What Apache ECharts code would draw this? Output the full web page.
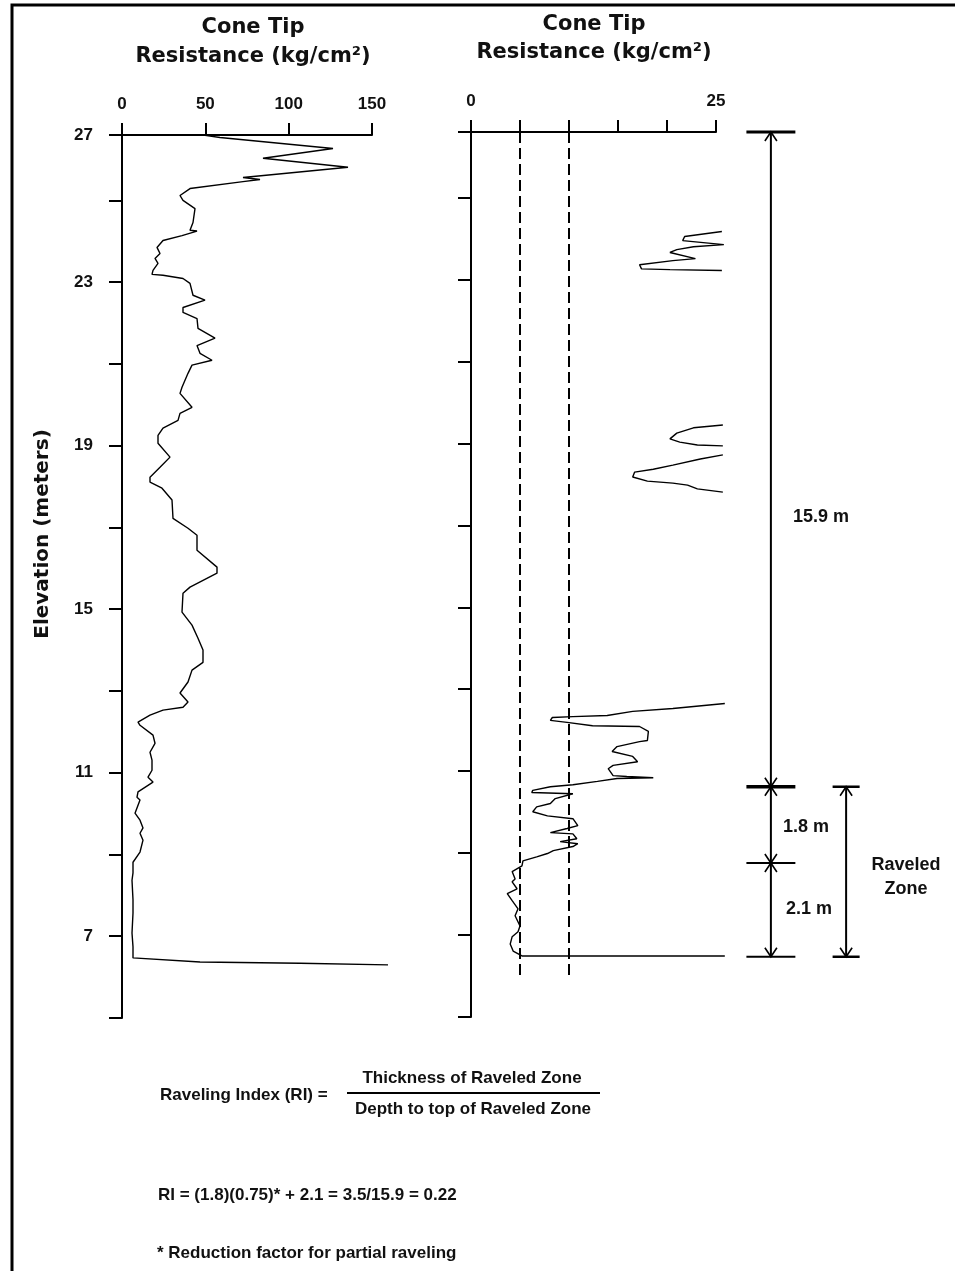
<!DOCTYPE html>
<html>
<head>
<meta charset="utf-8">
<title>Cone Tip Resistance - Raveling Index</title>
<script src="https://cdn.jsdelivr.net/npm/echarts@6/dist/echarts.min.js"></script>
<style>
  html, body { margin: 0; padding: 0; background: #fff; }
  #main { width: 955px; height: 1271px; }
</style>
</head>
<body>
<div id="main"></div>
<script>
// elevation axis (m), shared by both profiles
const elevMin = 5;
const elevMax = 26.6;
const elevLabels = [7, 11, 15, 19, 23];

// left profile: cone tip resistance (kg/cm2) against elevation (m)
const leftElev = [26.59, 26.59, 26.54, 26.27, 26.03, 25.81, 25.56, 25.51, 25.46, 25.29, 25.12, 25.0, 24.8, 24.46,
  24.27, 24.25, 24.14, 24.02, 23.85, 23.7, 23.58, 23.46, 23.29, 23.19, 23.17, 23.09, 22.97, 22.68, 22.56, 22.38,
  22.26, 22.11, 21.87, 21.63, 21.45, 21.26, 21.09, 20.97, 20.77, 20.43, 20.28, 19.94, 19.79, 19.62, 19.43, 19.25,
  19.06, 18.72, 18.47, 18.23, 18.11, 17.96, 17.67, 17.22, 16.98, 16.81, 16.44, 16.03, 15.88, 15.54, 15.39, 14.93,
  14.61, 14.29, 14.0, 13.7, 13.51, 13.22, 12.95, 12.73, 12.6, 12.53, 12.41, 12.24, 12.16, 11.92, 11.72, 11.5,
  11.31, 11.06, 10.89, 10.77, 10.53, 10.4, 10.33, 10.01, 9.84, 9.65, 9.52, 9.35, 9.06, 8.81, 8.55, 8.37, 7.89,
  7.57, 7.08, 6.74, 6.47, 6.37, 6.34, 6.3];
const leftResist = [13.8, 49.8, 58.8, 126.6, 84.6, 135.6, 72.6, 82.8, 72.6, 40.8, 34.8, 36.6, 43.8, 42.6,
  40.8, 45, 36, 24.6, 21, 22.8, 19.8, 21.6, 18.6, 18, 24.6, 36.6, 40.8, 42.6, 49.8, 36.6,
  36.6, 45, 45.6, 55.8, 45, 46.8, 54, 42, 39.6, 36, 34.8, 42, 34.8, 33.6, 24.6, 21.6,
  21.6, 28.8, 22.8, 16.8, 16.8, 24, 30, 30.6, 39.6, 45, 45, 57, 57, 40.8, 36.6, 36,
  42, 45.6, 48.6, 48.6, 42, 39.6, 34.8, 39.6, 36.6, 24.6, 16.8, 9.6, 10.8, 18.6, 19.8, 16.8,
  18, 18, 15.6, 18.6, 9.6, 9, 10.8, 7.8, 10.8, 12.6, 10.8, 12.6, 10.8, 6.6, 6.6, 6, 6.6,
  6.6, 6, 6.6, 6.6, 46.8, 106.8, 159.6];

// right profile (expanded scale 0-25), null = off scale
const rightElev = [24.17, 24.05, 23.95, 23.85, 23.8, 23.73, 23.66, 23.51, 23.46, 23.36, 23.26, 23.24, 23.22, null,
  19.45, 19.38, 19.25, 19.11, 19.03, 18.96, 18.94, null, 18.72, 18.62, 18.47, 18.37, 18.3, 18.18, 18.08, 18.03,
  17.98, 17.89, 17.81, null,
  12.65, 12.53, 12.46, 12.36, 12.33, 12.31, 12.24, 12.19, 12.11, 12.09, 11.97, 11.75, 11.72, 11.6, 11.48, 11.36,
  11.23, 11.14, 11.06, 10.89, 10.87, 10.84, 10.82, 10.75, 10.67, 10.62, 10.53, 10.48, 10.45, 10.33, 10.21, 10.13,
  10.01, 9.91, 9.84, 9.67, 9.6, 9.5, 9.47, 9.35, 9.28, 9.23, 9.16, 9.06, 8.99, 8.91, 8.81, 8.69, 8.55, 8.37, 8.3,
  8.13, 8.01, 7.84, 7.64, 7.47, 7.22, 7.08, 6.96, 6.78, 6.61, 6.49, 6.49, 6.49];
const rightResist = [25.6, 21.8, 21.6, 25.8, 22.7, 21.0, 20.3, 22.9, 20.6, 17.2, 17.4, 20.3, 25.6, null,
  25.7, 22.7, 21.0, 20.3, 21.3, 23.1, 25.7, null, 25.7, 23.4, 20.6, 18.6, 16.7, 16.5, 18.0, 20.6,
  22.1, 23.1, 25.7, null,
  25.9, 20.6, 16.5, 13.9, 10.4, 8.3, 8.1, 9.8, 12.4, 17.2, 18.1, 18.0, 17.2, 14.9, 14.4, 16.5,
  17.0, 14.5, 14.0, 14.5, 15.9, 18.6, 14.9, 12.9, 10.4, 8.1, 6.3, 6.2, 10.4, 8.6, 8.1, 6.7,
  6.3, 7.8, 10.4, 10.9, 9.8, 8.1, 10.4, 10.8, 9.1, 10.9, 10.4, 8.4, 7.8, 6.7, 5.3, 5.2, 4.2, 4.5, 4.2,
  4.7, 3.7, 4.2, 4.8, 4.5, 5.0, 4.8, 4.2, 4.0, 4.3, 5.2, 13.9, 25.9];

// dashed reference lines on the right profile
const refResist = [5, 10];
const refTop = 26.6;
const refBottom = 5.93;

// dimension lines: [column, top elevation, bottom elevation]
const dimSegments = [[2.78, 26.6, 10.62], [2.78, 10.62, 8.76], [2.78, 8.76, 6.47], [5.73, 10.62, 6.47]];
// extension bars: [column, elevation, half width, line width]
const dimBars = [[2.78, 26.6, 0.96, 3], [2.78, 10.62, 0.96, 3.5], [2.78, 8.76, 0.96, 2],
  [2.78, 6.47, 0.96, 2], [5.73, 10.62, 0.53, 2.5], [5.73, 6.47, 0.53, 2.5]];

const titleFont = 'bold 21px "DejaVu Sans", sans-serif';
const labelFamily = '"Liberation Sans", Arial, sans-serif';

// the profiles run past the printed axis (values > 150 and > 25), so they are drawn
// on hidden axes of the same scale that extend further to the right
const leftLeft = 122, leftWidth = 250, leftMax = 150, leftDataMax = 180;
const rightLeft = 471, rightWidth = 245, rightMax = 25, rightDataMax = 30;

function toPairs(xs, ys) {
  return xs.map((x, i) => (x == null || ys[i] == null ? ['-', '-'] : [x, ys[i]]));
}

function elevAxis(gridIndex, showLabel) {
  return {
    type: 'value',
    gridIndex: gridIndex,
    min: elevMin,
    max: elevMax,
    interval: 2,
    axisLine: { show: true, lineStyle: { color: '#000', width: 2 } },
    axisTick: { show: true, length: 13, lineStyle: { color: '#000', width: 2 } },
    splitLine: { show: false },
    axisLabel: {
      show: showLabel,
      margin: 29,
      showMinLabel: true,
      showMaxLabel: true,
      color: '#111',
      fontFamily: labelFamily,
      fontWeight: 'bold',
      fontSize: 17,
      formatter: (v) => {
        if (v > elevMax - 0.05) return '27';
        return elevLabels.indexOf(v) >= 0 ? String(v) : '';
      },
    },
  };
}

function resistAxis(gridIndex, max, interval, shown) {
  return {
    type: 'value',
    gridIndex: gridIndex,
    position: 'top',
    min: 0,
    max: max,
    interval: interval,
    axisLine: { show: true, lineStyle: { color: '#000', width: 2 } },
    axisTick: { show: true, length: 12, lineStyle: { color: '#000', width: 2 } },
    splitLine: { show: false },
    axisLabel: {
      margin: 22,
      color: '#111',
      fontFamily: labelFamily,
      fontWeight: 'bold',
      fontSize: 17,
      formatter: (v) => (shown.indexOf(v) >= 0 ? String(v) : ''),
    },
  };
}

function hiddenAxis(gridIndex, min, max) {
  return { type: 'value', gridIndex: gridIndex, min: min, max: max, show: false };
}

// dimension line with open arrow heads at both ends
function renderDimension(params, api) {
  const col = api.value(0);
  const p1 = api.coord([col, api.value(1)]);
  const p2 = api.coord([col, api.value(2)]);
  const a = 6;
  const h = 9;
  const stroke = { stroke: '#000', fill: null, lineWidth: 1.6 };
  return {
    type: 'group',
    children: [
      { type: 'line', shape: { x1: p1[0], y1: p1[1], x2: p2[0], y2: p2[1] }, style: { stroke: '#000', lineWidth: 2 } },
      { type: 'polyline', shape: { points: [[p1[0] - a, p1[1] + h], [p1[0], p1[1]], [p1[0] + a, p1[1] + h]] }, style: stroke },
      { type: 'polyline', shape: { points: [[p2[0] - a, p2[1] - h], [p2[0], p2[1]], [p2[0] + a, p2[1] - h]] }, style: stroke },
    ],
  };
}

function renderBar(params, api) {
  const col = api.value(0);
  const half = api.value(2);
  const p1 = api.coord([col - half, api.value(1)]);
  const p2 = api.coord([col + half, api.value(1)]);
  return {
    type: 'line',
    shape: { x1: p1[0], y1: p1[1], x2: p2[0], y2: p2[1] },
    style: { stroke: '#000', lineWidth: api.value(3) },
  };
}

function text(str, x, y, font, align, extra) {
  return Object.assign({
    type: 'text',
    x: x,
    y: y,
    silent: true,
    style: {
      text: str,
      font: font,
      fill: '#111',
      align: align,
      verticalAlign: 'middle',
      textAlign: align,
      textVerticalAlign: 'middle',
    },
  }, extra || {});
}

const annFont = 'bold 18px ' + labelFamily;
const noteFont = 'bold 17px ' + labelFamily;

const option = {
  animation: false,
  backgroundColor: '#fff',
  grid: [
    { left: leftLeft, top: 135, width: leftWidth, height: 883 },
    { left: rightLeft, top: 132, width: rightWidth, height: 885 },
    { left: 700, top: 132, width: 255, height: 885 },
    { left: leftLeft, top: 135, width: leftWidth * leftDataMax / leftMax, height: 883 },
    { left: rightLeft, top: 132, width: rightWidth * rightDataMax / rightMax, height: 885 },
  ],
  xAxis: [
    resistAxis(0, leftMax, 50, [0, 50, 100, 150]),
    resistAxis(1, rightMax, 5, [0, 25]),
    hiddenAxis(2, 0, 10),
    hiddenAxis(3, 0, leftDataMax),
    hiddenAxis(4, 0, rightDataMax),
  ],
  yAxis: [
    elevAxis(0, true),
    elevAxis(1, false),
    hiddenAxis(2, elevMin, elevMax),
    hiddenAxis(3, elevMin, elevMax),
    hiddenAxis(4, elevMin, elevMax),
  ],
  series: [
    {
      name: 'left',
      type: 'line',
      xAxisIndex: 3,
      yAxisIndex: 3,
      data: toPairs(leftResist, leftElev),
      showSymbol: false,
      clip: false,
      lineStyle: { color: '#000', width: 1.4 },
    },
    {
      name: 'right',
      type: 'line',
      xAxisIndex: 4,
      yAxisIndex: 4,
      data: toPairs(rightResist, rightElev),
      showSymbol: false,
      connectNulls: false,
      clip: false,
      lineStyle: { color: '#000', width: 1.4 },
      markLine: {
        silent: true,
        symbol: 'none',
        label: { show: false },
        lineStyle: { color: '#000', width: 2, type: [11, 5] },
        data: refResist.map((r) => [{ coord: [r, refTop] }, { coord: [r, refBottom] }]),
      },
    },
    {
      name: 'dimensions',
      type: 'custom',
      xAxisIndex: 2,
      yAxisIndex: 2,
      clip: false,
      silent: true,
      renderItem: renderDimension,
      data: dimSegments,
    },
    {
      name: 'bars',
      type: 'custom',
      xAxisIndex: 2,
      yAxisIndex: 2,
      clip: false,
      silent: true,
      renderItem: renderBar,
      data: dimBars,
    },
  ],
  graphic: [
    // frame
    {
      type: 'polyline',
      silent: true,
      shape: { points: [[12, 1271], [12, 5], [955, 5]] },
      style: { stroke: '#000', fill: null, lineWidth: 3 },
    },
    text('Cone Tip', 253, 28, titleFont, 'center'),
    text('Resistance (kg/cm²)', 253, 57, titleFont, 'center'),
    text('Cone Tip', 594, 25, titleFont, 'center'),
    text('Resistance (kg/cm²)', 594, 53, titleFont, 'center'),
    text('Elevation (meters)', 43, 534, 'bold 20px "DejaVu Sans", sans-serif', 'center', { rotation: Math.PI / 2 }),
    text('15.9 m', 793, 517, annFont, 'left'),
    text('1.8 m', 783, 827, annFont, 'left'),
    text('2.1 m', 786, 909, annFont, 'left'),
    text('Raveled', 906, 865, annFont, 'center'),
    text('Zone', 906, 889, annFont, 'center'),
    text('Raveling Index (RI) =', 160, 1095, noteFont, 'left'),
    text('Thickness of Raveled Zone', 472, 1078, noteFont, 'center'),
    {
      type: 'line',
      silent: true,
      shape: { x1: 347, y1: 1093, x2: 600, y2: 1093 },
      style: { stroke: '#000', lineWidth: 2 },
    },
    text('Depth to top of Raveled Zone', 473, 1109, noteFont, 'center'),
    text('RI = (1.8)(0.75)* + 2.1 = 3.5/15.9 = 0.22', 158, 1195, noteFont, 'left'),
    text('* Reduction factor for partial raveling', 157, 1253, noteFont, 'left'),
  ],
};

const chart = echarts.init(document.getElementById('main'));
chart.setOption(option);
</script>
</body>
</html>
